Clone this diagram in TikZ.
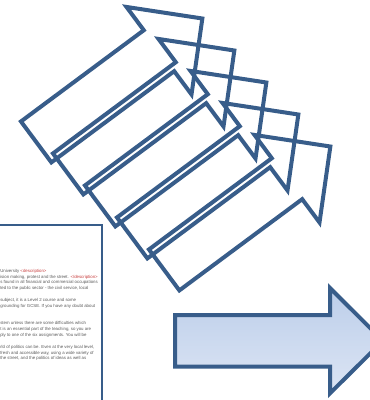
\documentclass[tikz,border=0pt]{standalone}
\usepackage{fontspec}
\setmainfont{Liberation Sans}
\usepackage{tikz}
\usetikzlibrary{calc}
\definecolor{arrowBlue}{RGB}{56,93,138}
\definecolor{arrowFillTop}{RGB}{188,206,234}
\definecolor{arrowFillBot}{RGB}{220,229,244}
\definecolor{dpgray}{RGB}{90,90,90}
\definecolor{dpred}{RGB}{200,60,60}

\begin{document}
\begin{tikzpicture}[x=0.75pt,y=-0.75pt,
  docline/.style={anchor=base west, inner sep=0pt, text=dpgray, font=\fontsize{3.25pt}{3.9pt}\selectfont},
  outlinearrow/.style={draw=arrowBlue, line width=3pt, line join=miter}]
\useasboundingbox (0,0) rectangle (370,400);

% document page
\draw[arrowBlue, line width=1.5pt, fill=white] (-10,225) rectangle (102,410);
\node[docline] (lnA) at (0,272.5) {University \textcolor{dpred}{<description>}};
\node[docline] (lnB) at (0,278.2) {ision making, protest and the street. \textcolor{dpred}{</description>}};
\node[docline] (lnC) at (0,283.9) {s found in all financial and commercial occupations};
\node[docline] (lnD) at (0,289.6) {ted to the public sector - the civil service, local};
\node[docline] (lnE) at (0,301.8) {subject, it is a Level 2 course and some};
\node[docline] (lnF) at (0,307.5) {grounding for GCSE. If you have any doubt about};
\node[docline] (lnG) at (0,324.6) {stem unless there are some difficulties which};
\node[docline] (lnH) at (0,330.3) {t is an essential part of the teaching, so you are};
\node[docline] (lnI) at (0,336.0) {ply to one of the six assignments. You will be};
\node[docline] (lnJ) at (0,348.5) {rld of politics can be. Even at the very local level,};
\node[docline] (lnK) at (0,354.2) {fresh and accessible way, using a wide variety of};
\node[docline] (lnL) at (0,359.9) {the street, and the politics of ideas as well as};

% five stacked arrows
\foreach \k in {0,...,4}{
  \begin{scope}[shift={(159+32*\k,50.7+32*\k)}, rotate=36.6]
    \draw[outlinearrow] (-153,-25.5) -- (0,-25.5) -- (0,-54.5) -- (54,0)
      -- (0,54.5) -- (0,25.5) -- (-153,25.5) -- cycle;
  \end{scope}
}

% big filled arrow
\draw[arrowBlue, line width=3pt, line join=miter, top color=arrowFillTop, bottom color=arrowFillBot]
  (175,315) -- (330,315) -- (330,288) -- (383,340.8) -- (330,393.3) -- (330,366.7) -- (175,366.7) -- cycle;
\end{tikzpicture}
\end{document}
